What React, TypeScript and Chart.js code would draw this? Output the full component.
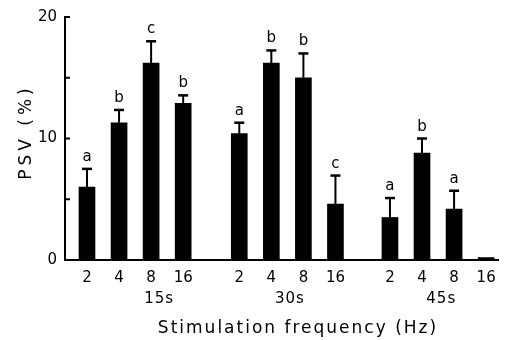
import React, { useEffect, useRef } from "react";
import { Chart, registerables } from "chart.js";

Chart.register(...registerables);

// ---- data ----
const groups = ["15s", "30s", "45s"];
const frequencies = ["2", "4", "8", "16"];
const groupStart = [0, 4.75, 9.45];
const groupLabelPos = [2.25, 6.33, 11.05];
const psvMean = [6.0, 11.3, 16.2, 12.9, 10.4, 16.2, 15.0, 4.6, 3.5, 8.8, 4.2, 0.2];
const psvErr = [1.5, 1.05, 1.8, 0.65, 0.9, 1.05, 2.0, 2.35, 1.6, 1.2, 1.5, 0];
const sigLetters = ["a", "b", "c", "b", "a", "b", "b", "c", "a", "b", "a", ""];
const yTickValues = [0, 5, 10, 15, 20];
const yLabelled = [0, 10, 20];

const barPos: number[] = [];
const barFreq: string[] = [];
groups.forEach((_, g) => {
  frequencies.forEach((f, i) => {
    barPos.push(groupStart[g] + i);
    barFreq.push(f);
  });
});

const FONT = "'DejaVu Sans', sans-serif";

const overlayPlugin = {
  id: "overlay",
  afterDatasetsDraw(chart: any) {
    const ctx = chart.ctx as CanvasRenderingContext2D;
    const meta = chart.getDatasetMeta(0);
    const ys = chart.scales.y;
    ctx.save();
    ctx.strokeStyle = "#000";
    ctx.fillStyle = "#000";
    meta.data.forEach((bar: any, i: number) => {
      const err = psvErr[i];
      const x = bar.x;
      const top = bar.y;
      let capY = top;
      if (err > 0) {
        capY = ys.getPixelForValue(psvMean[i] + err);
        ctx.lineWidth = 2;
        ctx.beginPath();
        ctx.moveTo(x, top);
        ctx.lineTo(x, capY);
        ctx.stroke();
        ctx.lineWidth = 2.5;
        ctx.beginPath();
        ctx.moveTo(x - 5, capY);
        ctx.lineTo(x + 5, capY);
        ctx.stroke();
      }
      if (sigLetters[i]) {
        ctx.font = `15px ${FONT}`;
        ctx.textAlign = "center";
        ctx.textBaseline = "alphabetic";
        ctx.fillText(sigLetters[i], x, capY - 8);
      }
    });
    ctx.restore();
  },
  afterDraw(chart: any) {
    const ctx = chart.ctx as CanvasRenderingContext2D;
    const xs = chart.scales.x;
    const ys = chart.scales.y;
    const area = chart.chartArea;
    ctx.save();
    ctx.strokeStyle = "#000";
    ctx.fillStyle = "#000";
    // inward y ticks
    ctx.lineWidth = 2;
    yTickValues.forEach((v) => {
      if (v === 0) return;
      const py = ys.getPixelForValue(v);
      ctx.beginPath();
      ctx.moveTo(area.left, py);
      ctx.lineTo(area.left + 5, py);
      ctx.stroke();
    });
    // group labels
    ctx.font = `15px ${FONT}`;
    (ctx as any).letterSpacing = "1px";
    ctx.textAlign = "center";
    ctx.textBaseline = "alphabetic";
    groups.forEach((g, i) => {
      ctx.fillText(g, xs.getPixelForValue(groupLabelPos[i]), 303);
    });
    // x title
    ctx.font = `17px ${FONT}`;
    (ctx as any).letterSpacing = "2px";
    ctx.fillText("Stimulation frequency (Hz)", 298, 333);
    // y title
    ctx.translate(31, 132);
    ctx.rotate(-Math.PI / 2);
    ctx.font = `17px ${FONT}`;
    (ctx as any).letterSpacing = "4px";
    ctx.fillText("PSV (%)", 0, 0);
    (ctx as any).letterSpacing = "0px";
    ctx.restore();
  },
};

export default function App() {
  const ref = useRef<HTMLCanvasElement | null>(null);
  useEffect(() => {
    if (!ref.current) return;
    const chart = new Chart(ref.current, {
      type: "bar",
      data: {
        datasets: [
          {
            data: psvMean.map((v, i) => ({ x: barPos[i], y: v })),
            backgroundColor: "#000",
            borderWidth: 0,
            barThickness: 16,
          },
        ],
      },
      options: {
        animation: false,
        responsive: false,
        layout: { padding: { top: 15, right: 8, left: 0, bottom: 0 } },
        plugins: { legend: { display: false }, tooltip: { enabled: false } },
        scales: {
          x: {
            type: "linear",
            offset: false,
            min: -0.686,
            max: 12.82,
            grid: { display: false, drawTicks: false, offset: false },
            border: { display: true, color: "#000", width: 2 },
            afterBuildTicks: (axis: any) => {
              axis.ticks = barPos.map((v) => ({ value: v }));
            },
            afterFit: (scale: any) => {
              scale.height = 80;
            },
            ticks: {
              autoSkip: false,
              maxRotation: 0,
              padding: 9,
              color: "#000",
              font: { family: FONT, size: 15 },
              callback: (value: any) => {
                const idx = barPos.findIndex((p) => Math.abs(p - Number(value)) < 1e-6);
                return idx >= 0 ? barFreq[idx] : "";
              },
            },
          },
          y: {
            min: 0,
            max: 20,
            grid: { display: false, drawTicks: false },
            border: { display: true, color: "#000", width: 2 },
            afterBuildTicks: (axis: any) => {
              axis.ticks = yTickValues.map((v) => ({ value: v }));
            },
            afterFit: (scale: any) => {
              scale.width = 65;
            },
            ticks: {
              padding: 8,
              color: "#000",
              font: { family: FONT, size: 15 },
              callback: (value: any) => (yLabelled.includes(Number(value)) ? String(value) : ""),
            },
          },
        },
      },
      plugins: [overlayPlugin],
    });
    return () => chart.destroy();
  }, []);
  return (
    <div style={{ position: "fixed", left: 0, top: 0, width: 506, height: 340, background: "#fff" }}>
      <canvas ref={ref} width={506} height={340} style={{ display: "block" }} />
    </div>
  );
}
